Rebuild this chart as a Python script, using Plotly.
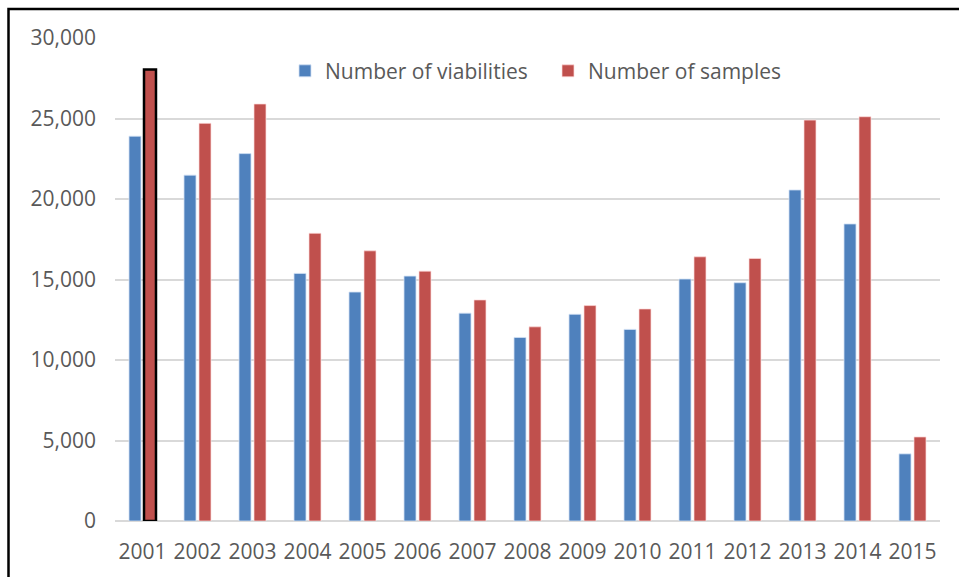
import plotly.graph_objects as go

years = ["2001", "2002", "2003", "2004", "2005", "2006", "2007", "2008",
         "2009", "2010", "2011", "2012", "2013", "2014", "2015"]
viabilities = [23900, 21480, 22820, 15380, 14220, 15210, 12910, 11400,
               12840, 11900, 15030, 14800, 20560, 18450, 4170]
samples = [28050, 24700, 25900, 17870, 16780, 15520, 13730, 12060,
           13380, 13170, 16410, 16310, 24900, 25110, 5220]
y_ticks = [0, 5000, 10000, 15000, 20000, 25000, 30000]
y_tick_labels = ["0", "5,000", "10,000", "15,000", "20,000", "25,000", "30,000"]
highlight_year = "2001"

BLUE = "#4F81BD"
RED = "#C0504D"
FONT = "Open Sans"
GRAY = "#595959"

# feed the red series in reverse so the legend swatch takes a normal (un-highlighted) point
rev_years = years[::-1]
rev_samples = samples[::-1]
red_line_colors = ["#000000" if y == highlight_year else "rgba(255,220,220,0.7)" for y in rev_years]
red_line_widths = [2.5 if y == highlight_year else 1 for y in rev_years]

fig = go.Figure()
fig.add_trace(go.Bar(
    x=years, y=viabilities, name="Number of viabilities",
    marker=dict(color=BLUE, line=dict(color="rgba(210,225,245,0.8)", width=1)),
))
fig.add_trace(go.Bar(
    x=rev_years, y=rev_samples, name="Number of samples",
    marker=dict(color=RED, line=dict(color=red_line_colors, width=red_line_widths)),
))

fig.update_layout(
    width=959, height=577,
    margin=dict(l=115, r=19, t=38, b=54),
    paper_bgcolor="white", plot_bgcolor="white",
    barmode="group", bargap=0.455, bargroupgap=0.2,
    font=dict(family=FONT, size=21, color=GRAY),
    showlegend=True,
    legend=dict(orientation="h", x=(285 - 115) / 825, y=(522.7 - 71) / 485,
                xanchor="left", yanchor="middle",
                font=dict(family=FONT, size=21, color=GRAY), bgcolor="rgba(0,0,0,0)",
                itemwidth=30, entrywidth=218, borderwidth=0),
    xaxis=dict(categoryorder="array", categoryarray=years,
               showgrid=False, showline=False, zeroline=False, ticks="",
               tickfont=dict(family=FONT, size=21, color=GRAY), ticklabelstandoff=16),
    yaxis=dict(range=[0, 30000], tickvals=y_ticks, ticktext=y_tick_labels,
               showgrid=True, gridcolor="#d9d9d9", gridwidth=1.5,
               zeroline=True, zerolinecolor="#d9d9d9", zerolinewidth=1.5,
               showline=False, ticks="",
               tickfont=dict(family=FONT, size=21, color=GRAY), ticklabelstandoff=18),
    shapes=[dict(type="rect", xref="paper", yref="paper",
                 x0=(8.5 - 115) / 825, x1=1.1, y0=-0.3, y1=(522.7 - 8.5) / 485,
                 line=dict(color="black", width=2.5), fillcolor="rgba(0,0,0,0)", layer="above")],
)

fig.write_html("out.html", config={"displayModeBar": False},
               post_script="document.body.style.margin='0';document.body.style.overflow='hidden';")
